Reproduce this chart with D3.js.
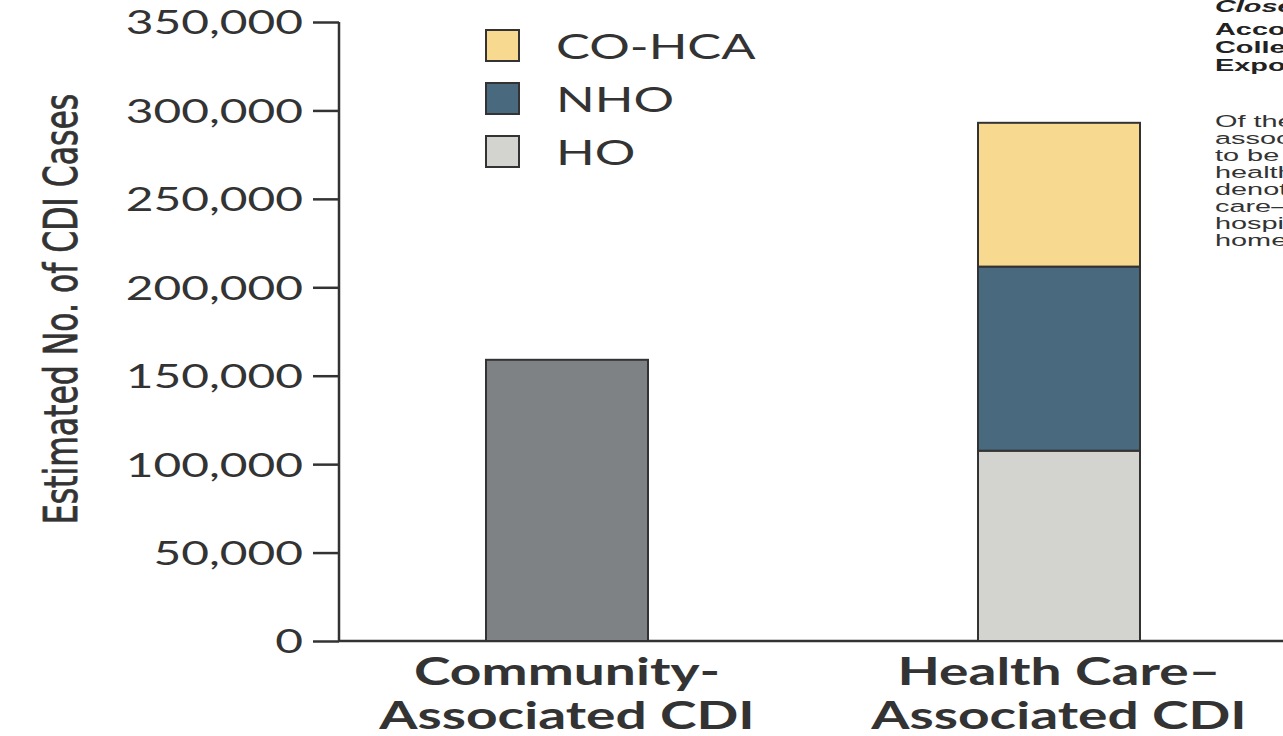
<!DOCTYPE html>
<html>
<head>
<meta charset="utf-8">
<script src="https://cdn.jsdelivr.net/npm/d3@7"></script>
<style>
  body { margin: 0; background: #fff; overflow: hidden; }
</style>
</head>
<body>
<div id="chart"></div>
<script>
// data
var categories = ["Community-Associated CDI", "Health Care–Associated CDI"];
var catLines = [["Community-", "Associated CDI"], ["Health Care–", "Associated CDI"]];
var communityCases = [159000];
var seriesNames = ["HO", "NHO", "CO-HCA"];
var healthCareCases = [107600, 104100, 81300];
var yTicks = [0, 50000, 100000, 150000, 200000, 250000, 300000, 350000];
var legendOrder = ["CO-HCA", "NHO", "HO"];
var sideTitle = ["Close-up: Estimated Cases", "According to Location", "Collected Data and", "Exposure"];
var sideBody = ["Of the health care–", "associated cases,", "to be", "health care", "denotes", "care–associated", "hospital", "home"];

var width = 1283, height = 736;
var stretch = 1.45; // the picture is wider than tall, so the type looks stretched
var colors = { "HO": "#d3d4cf", "NHO": "#48697e", "CO-HCA": "#f7d98f" };
var communityColor = "#7f8285";
var sans = "Lato, 'Open Sans', sans-serif";

var svg = d3.select("#chart").append("svg")
    .attr("width", width)
    .attr("height", height);

var y = d3.scaleLinear().domain([0, 350000]).range([641, 22]);
var x = d3.scalePoint().domain(categories).range([321, 1305]).padding(0.5);
var barW = 162;

/* axes */
var yAxis = svg.append("g")
    .attr("transform", "translate(339,0)")
    .call(d3.axisLeft(y).tickValues(yTicks).tickSize(26).tickPadding(8)
      .tickFormat(d3.format(",")));
yAxis.select(".domain").attr("d", "M0," + y(350000) + "V" + y(0))
    .attr("stroke", "#333").attr("stroke-width", 2.5);
yAxis.selectAll(".tick line").attr("stroke", "#333").attr("stroke-width", 2.5);
yAxis.selectAll(".tick text")
    .attr("x", -36 / stretch)
    .attr("transform", "scale(" + stretch + ",1)")
    .style("font-family", sans)
    .style("font-size", "33px")
    .attr("fill", "#333")
    .attr("dy", "0.36em");

svg.append("line")
    .attr("x1", 339).attr("x2", width)
    .attr("y1", y(0)).attr("y2", y(0))
    .attr("stroke", "#333").attr("stroke-width", 2.5);

svg.append("text")
    .attr("transform", "translate(77,309) rotate(-90) scale(1,1.3)")
    .attr("text-anchor", "middle")
    .style("font-family", "'Liberation Sans Narrow', 'DejaVu Sans Condensed', sans-serif")
    .style("font-size", "35px")
    .attr("fill", "#333")
    .attr("stroke", "#333")
    .attr("stroke-width", 0.6)
    .text("Estimated No. of CDI Cases");

/* community bar */
svg.selectAll(".cbar")
    .data(communityCases)
    .enter().append("rect")
      .attr("class", "cbar")
      .attr("x", x(categories[0]) - barW / 2)
      .attr("width", barW)
      .attr("y", function(d) { return y(d); })
      .attr("height", function(d) { return y(0) - y(d); })
      .attr("fill", communityColor)
      .attr("stroke", "#333")
      .attr("stroke-width", 2);

/* stacked bar */
var row = {};
seriesNames.forEach(function(s, i) { row[s] = healthCareCases[i]; });
var stack = d3.stack().keys(seriesNames)([row]);

svg.selectAll(".sbar")
    .data(stack)
    .enter().append("rect")
      .attr("class", "sbar")
      .attr("x", x(categories[1]) - barW / 2)
      .attr("width", barW)
      .attr("y", function(d) { return y(d[0][1]); })
      .attr("height", function(d) { return y(d[0][0]) - y(d[0][1]); })
      .attr("fill", function(d) { return colors[d.key]; })
      .attr("stroke", "#333")
      .attr("stroke-width", 2);

/* category labels */
categories.forEach(function(c, i) {
  svg.append("text")
    .attr("transform", "translate(" + x(c) + ",685) scale(" + stretch + ",1)")
    .attr("text-anchor", "middle")
    .style("font-family", sans)
    .style("font-weight", "bold")
    .style("font-size", "38px")
    .attr("fill", "#333")
    .selectAll("tspan")
    .data(catLines[i])
    .enter().append("tspan")
      .attr("x", 0)
      .attr("dy", function(d, j) { return j ? 44 : 0; })
      .text(function(d) { return d; });
});

/* legend */
var legend = svg.selectAll(".legend")
    .data(legendOrder)
    .enter().append("g")
      .attr("class", "legend")
      .attr("transform", function(d, i) { return "translate(486," + (30 + i * 53) + ")"; });

legend.append("rect")
    .attr("width", 33).attr("height", 31)
    .attr("fill", function(d) { return colors[d]; })
    .attr("stroke", "#333").attr("stroke-width", 2);

legend.append("text")
    .attr("transform", "translate(70,16) scale(" + stretch + ",1)")
    .attr("dy", "0.36em")
    .style("font-family", sans)
    .style("font-size", "35px")
    .attr("fill", "#333")
    .text(function(d) { return d; });

/* side note, clipped at the page edge */
var sideStretch = 1.7;
var side = svg.append("g").attr("transform", "translate(1215,0)");
side.selectAll(".st")
    .data(sideTitle)
    .enter().append("text")
      .attr("class", "st")
      .attr("transform", function(d, i) { return "translate(0," + (i ? 17 + i * 18 : 12) + ") scale(" + sideStretch + ",1)"; })
      .style("font-family", "'Liberation Sans', Arial, sans-serif")
      .style("font-weight", "bold")
      .style("font-style", function(d, i) { return i === 0 ? "italic" : "normal"; })
      .style("font-size", "17px")
      .attr("fill", "#222")
      .text(function(d) { return d; });

side.selectAll(".sb")
    .data(sideBody)
    .enter().append("text")
      .attr("class", "sb")
      .attr("transform", function(d, i) { return "translate(0," + (127 + i * 17) + ") scale(" + sideStretch + ",1)"; })
      .style("font-family", "'Liberation Sans', Arial, sans-serif")
      .style("font-size", "17px")
      .attr("fill", "#333")
      .text(function(d) { return d; });
</script>
</body>
</html>
